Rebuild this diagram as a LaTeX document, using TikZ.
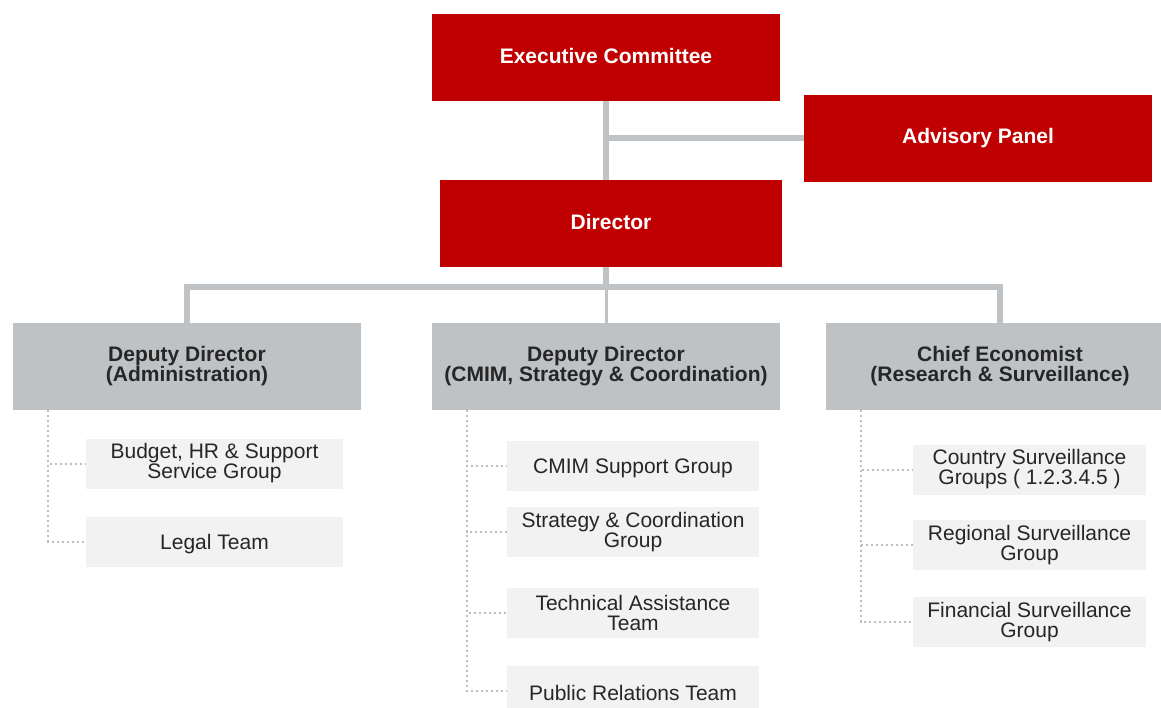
\documentclass[tikz,border=0pt]{standalone}
\usepackage{fontspec}
\setmainfont{Liberation Sans}
\usetikzlibrary{positioning,calc}
\definecolor{boardred}{HTML}{C00000}
\definecolor{headgray}{HTML}{BFC2C5}
\definecolor{linkgray}{HTML}{C0C3C6}
\definecolor{unitfill}{HTML}{F2F2F2}
\definecolor{dotgray}{HTML}{BEBEBE}
\definecolor{ink}{HTML}{262626}
\tikzset{
  font=\fontsize{21}{20}\selectfont,
  board/.style={fill=boardred, text=white, font=\fontsize{21}{20}\selectfont\bfseries,
    minimum width=348pt, minimum height=87pt, align=center, inner sep=2pt,
    execute at end node={\rule[-4pt]{0pt}{0pt}}},
  capcentred/.style={execute at begin node={\rule{0pt}{19.9pt}}},
  deputy/.style={fill=headgray, text=ink, font=\fontsize{21}{20}\selectfont\bfseries,
    minimum width=348pt, minimum height=87pt, align=center, inner sep=2pt, capcentred},
  unit/.style={fill=unitfill, text=ink, minimum height=50pt, align=center, inner sep=2pt,
    capcentred},
  spine/.style={draw=linkgray, line width=6pt},
  thinlink/.style={draw=linkgray, line width=3pt},
  dotlink/.style={draw=dotgray, line width=2pt, dash pattern=on 2pt off 3pt}
}
\begin{document}
\begin{tikzpicture}[x=1pt,y=-1pt]
\clip (0,0) rectangle (1161,708);

% top of the chart
\node[board] (exec) at (606,57.5) {Executive Committee};
\node[board] (panel) at (978,138.5) {Advisory Panel};
\node[board, minimum width=342pt] (dir) at (611,223.5) {Director};
\coordinate (hub) at (606,287);
\draw[spine] (exec.south) -- (exec.south |- dir.north);
\draw[spine] (exec.south |- panel.west) -- (panel.west);
\draw[spine] (dir.south -| hub) -- (hub);

% deputies
\node[deputy] (dadm) at (187,366.5) {Deputy Director\\(Administration)};
\node[deputy] (dcmim) at (606,366.5) {Deputy Director\\(CMIM, Strategy \& Coordination)};
\node[deputy] (chief) at (1000,366.5) {Chief Economist\\(Research \& Surveillance)};
\draw[spine] (dadm.north) -- (dadm.north |- hub) -- (chief.north |- hub) -- (chief.north);
\draw[thinlink] (hub) -- (dcmim.north);

% administration units
\foreach \y/\name/\lab in {463.5/budget/{Budget, HR \& Support\\Service Group},541.5/legal/{Legal Team}}
  \node[unit, minimum width=257pt] (\name) at (214.5,\y) {\lab};
\foreach \a in {budget,legal}
  \draw[dotlink] ($(dadm.south west)+(35,0)$) |- (\a.west);

% CMIM, strategy and coordination units
\foreach \y/\name/\lab in {466/cmim/{CMIM Support Group},532/strat/{Strategy \& Coordination\\Group},613/tech/{Technical Assistance\\Team},691/relations/{Public Relations Team}}
  \node[unit, minimum width=252pt] (\name) at (633,\y) {\lab};
\foreach \a in {cmim,strat,tech,relations}
  \draw[dotlink] ($(dcmim.south west)+(35,0)$) |- (\a.west);

% research and surveillance units
\foreach \y/\name/\lab in {469.5/country/{Country Surveillance\\Groups ( 1.2.3.4.5 )},545/regional/{Regional Surveillance\\Group},622/financial/{Financial Surveillance\\Group}}
  \node[unit, minimum width=233pt] (\name) at (1029.5,\y) {\lab};
\foreach \a in {country,regional,financial}
  \draw[dotlink] ($(chief.south west)+(35,0)$) |- (\a.west);
\end{tikzpicture}
\end{document}
